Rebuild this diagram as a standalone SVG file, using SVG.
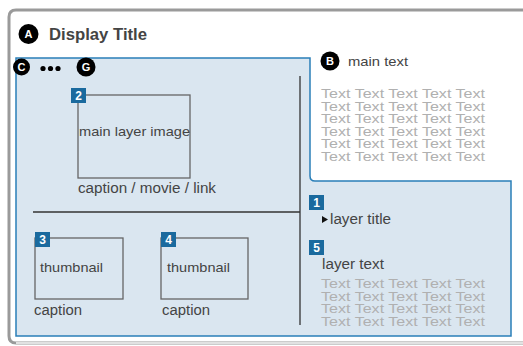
<svg xmlns="http://www.w3.org/2000/svg" width="523" height="346" viewBox="0 0 523 346">
<style>
.t{font-family:"Liberation Sans",Arial,sans-serif;fill:#444}
.g{font-family:"Liberation Sans",Arial,sans-serif;fill:#b0b0b0;font-size:13.5px}
.b{fill:#1a6a9e}
.bn{font-family:"Liberation Sans",Arial,sans-serif;font-weight:bold;font-size:12px;fill:#fff;text-anchor:middle}
.c{fill:#000}
.cn{font-family:"Liberation Sans",Arial,sans-serif;font-weight:bold;font-size:11px;fill:#fff;text-anchor:middle}
.box{fill:none;stroke:#666;stroke-width:1.3}
.ln{stroke:#333;stroke-width:1.3}
</style>
<rect x="0" y="0" width="523" height="346" fill="#fff"/>
<g id="frame">
<path d="M540,10 H16 Q9,10 9,17 V336 Q9,343 16,343 H540" fill="#fff" stroke="#9a9a9a" stroke-width="3"/>
<path d="M16,343 H540" stroke="#e2e2e2" stroke-width="2"/>
</g>
<g id="panel">
<path d="M16,58 H310 V176 Q310,181 315,181 H511 V336 H16 Z" fill="#dae6f0" stroke="#2a7fb8" stroke-width="1.5"/>
</g>
<g id="connectors">
<line class="ln" x1="300" y1="76" x2="300" y2="325"/>
<line class="ln" x1="33" y1="212" x2="300" y2="212"/>
</g>
<g id="title">
<circle class="c" cx="28.5" cy="34" r="10"/>
<text class="cn" x="28.5" y="38">A</text>
<text class="t" x="49" y="40" font-size="16" font-weight="bold" fill="#333" textLength="98" lengthAdjust="spacingAndGlyphs">Display Title</text>
</g>
<g id="cg">
<circle class="c" cx="21.5" cy="67" r="8.5"/>
<text class="cn" x="21.5" y="71">C</text>
<circle class="c" cx="43" cy="68.5" r="2.6"/>
<circle class="c" cx="50.5" cy="68.5" r="2.6"/>
<circle class="c" cx="58" cy="68.5" r="2.6"/>
<circle class="c" cx="86" cy="67" r="9.5"/>
<text class="cn" x="86" y="71">G</text>
</g>
<g id="main-image">
<rect class="box" x="78" y="95" width="112" height="83"/>
<rect class="b" x="71" y="88" width="15" height="15"/>
<text class="bn" x="78.5" y="100">2</text>
<text class="t" x="79" y="136" font-size="13" textLength="111" lengthAdjust="spacingAndGlyphs">main layer image</text>
<text class="t" x="78" y="193" font-size="14" textLength="138" lengthAdjust="spacingAndGlyphs">caption / movie / link</text>
</g>
<g id="thumb3">
<rect class="box" x="35" y="238" width="88" height="61"/>
<rect class="b" x="35" y="232" width="15" height="15"/>
<text class="bn" x="42.5" y="244">3</text>
<text class="t" x="40" y="272" font-size="13" textLength="63" lengthAdjust="spacingAndGlyphs">thumbnail</text>
<text class="t" x="34" y="315" font-size="14" textLength="48" lengthAdjust="spacingAndGlyphs">caption</text>
</g>
<g id="thumb4">
<rect class="box" x="161" y="238" width="87" height="61"/>
<rect class="b" x="161" y="232" width="15" height="15"/>
<text class="bn" x="168.5" y="244">4</text>
<text class="t" x="167" y="272" font-size="13" textLength="63" lengthAdjust="spacingAndGlyphs">thumbnail</text>
<text class="t" x="162" y="315" font-size="14" textLength="48" lengthAdjust="spacingAndGlyphs">caption</text>
</g>
<g id="main-text">
<circle class="c" cx="330" cy="61" r="9.5"/>
<text class="cn" x="330" y="65">B</text>
<text class="t" x="348" y="66" font-size="13" fill="#333" textLength="60" lengthAdjust="spacingAndGlyphs">main text</text>
<text class="g" x="321" y="98" textLength="164" lengthAdjust="spacingAndGlyphs">Text Text Text Text Text</text>
<text class="g" x="321" y="110.5" textLength="164" lengthAdjust="spacingAndGlyphs">Text Text Text Text Text</text>
<text class="g" x="321" y="123" textLength="164" lengthAdjust="spacingAndGlyphs">Text Text Text Text Text</text>
<text class="g" x="321" y="135.5" textLength="164" lengthAdjust="spacingAndGlyphs">Text Text Text Text Text</text>
<text class="g" x="321" y="148" textLength="164" lengthAdjust="spacingAndGlyphs">Text Text Text Text Text</text>
<text class="g" x="321" y="160.5" textLength="164" lengthAdjust="spacingAndGlyphs">Text Text Text Text Text</text>
</g>
<g id="layer-title">
<rect class="b" x="309" y="195" width="15" height="15"/>
<text class="bn" x="316.5" y="207">1</text>
<path d="M322,216 L328,219.5 L322,223 Z" fill="#111"/>
<text class="t" x="330" y="224" font-size="14" fill="#333" textLength="61" lengthAdjust="spacingAndGlyphs">layer title</text>
</g>
<g id="layer-text">
<rect class="b" x="309" y="240" width="15" height="15"/>
<text class="bn" x="316.5" y="252">5</text>
<text class="t" x="322" y="269" font-size="14" fill="#333" textLength="62" lengthAdjust="spacingAndGlyphs">layer text</text>
<text class="g" x="321" y="288" textLength="164" lengthAdjust="spacingAndGlyphs">Text Text Text Text Text</text>
<text class="g" x="321" y="300.5" textLength="164" lengthAdjust="spacingAndGlyphs">Text Text Text Text Text</text>
<text class="g" x="321" y="313" textLength="164" lengthAdjust="spacingAndGlyphs">Text Text Text Text Text</text>
<text class="g" x="321" y="325.5" textLength="164" lengthAdjust="spacingAndGlyphs">Text Text Text Text Text</text>
</g>
</svg>
